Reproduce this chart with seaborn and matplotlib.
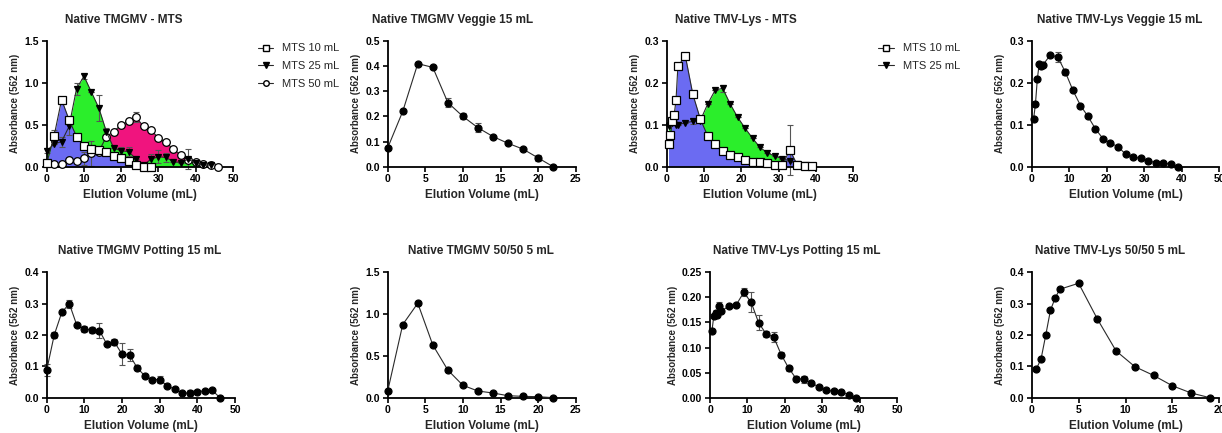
import seaborn as sns
import numpy as np
import matplotlib.pyplot as plt
from matplotlib.lines import Line2D

# DATA
# Native TMGMV - MTS
tmgmv_mts10_x = [0, 2, 4, 6, 8, 10, 12, 14, 16, 18, 20, 22, 24, 26, 28]
tmgmv_mts10_y = [0.04, 0.37, 0.80, 0.56, 0.36, 0.25, 0.21, 0.20, 0.17, 0.13, 0.10, 0.07, 0.02, 0.0, 0.0]
tmgmv_mts10_err = [0, 0.07, 0, 0, 0, 0, 0, 0, 0, 0, 0, 0, 0, 0, 0]

tmgmv_mts25_x = [0, 2, 4, 6, 8, 10, 12, 14, 16, 18, 20, 22, 24, 26, 28, 30, 32, 34, 36, 38, 40, 42, 44]
tmgmv_mts25_y = [0.19, 0.27, 0.30, 0.48, 0.93, 1.08, 0.89, 0.70, 0.42, 0.22, 0.19, 0.18, 0.09, 0.02,
                 0.09, 0.12, 0.11, 0.06, 0.05, 0.09, 0.04, 0.02, 0.02]
tmgmv_mts25_err = [0.03, 0, 0.06, 0.10, 0.07, 0.03, 0, 0.15, 0.04, 0, 0.04, 0.05, 0, 0,
                   0.06, 0.08, 0.05, 0, 0, 0.12, 0, 0, 0]

tmgmv_mts50_x = [0, 2, 4, 6, 8, 10, 12, 14, 16, 18, 20, 22, 24, 26, 28, 30, 32, 34, 36, 38, 40, 42, 44, 46]
tmgmv_mts50_y = [0.04, 0.03, 0.03, 0.08, 0.07, 0.10, 0.16, 0.18, 0.36, 0.42, 0.50, 0.54, 0.59, 0.48,
                 0.44, 0.34, 0.29, 0.21, 0.14, 0.08, 0.06, 0.03, 0.02, 0.0]
tmgmv_mts50_err = [0, 0, 0, 0, 0, 0.08, 0.15, 0, 0, 0, 0, 0, 0.06, 0, 0, 0, 0, 0, 0, 0, 0, 0, 0, 0]

# Native TMGMV Veggie 15 mL
tmgmv_veggie_x = [0, 2, 4, 6, 8, 10, 12, 14, 16, 18, 20, 22]
tmgmv_veggie_y = [0.075, 0.22, 0.41, 0.395, 0.255, 0.20, 0.155, 0.12, 0.093, 0.07, 0.035, 0.0]
tmgmv_veggie_err = [0, 0, 0, 0, 0.018, 0.012, 0.018, 0, 0, 0, 0.012, 0]

# Native TMV-Lys - MTS
lys_mts_x = [0.5, 1, 1.5, 2, 2.5, 3, 5, 7, 9, 11, 13, 15, 17, 19, 21, 23, 25, 27, 29, 31, 33, 35, 37, 39]
lys_mts10_y = [0.054, 0.075, 0.108, 0.123, 0.16, 0.24, 0.264, 0.173, 0.114, 0.073, 0.053, 0.038,
               0.029, 0.024, 0.017, 0.012, 0.011, 0.008, 0.005, 0.004, 0.04, 0.004, 0.002, 0.001]
lys_mts10_err = [0, 0, 0, 0, 0, 0, 0, 0, 0, 0, 0, 0, 0, 0, 0, 0, 0, 0, 0, 0, 0.06, 0, 0, 0]
lys_mts25_y = [0.097, 0.100, 0.105, 0.110, 0.100, 0.100, 0.105, 0.108, 0.110, 0.150, 0.183, 0.187,
               0.150, 0.118, 0.092, 0.068, 0.046, 0.033, 0.025, 0.019, 0.014, 0.006, 0.004, 0.002]
lys_mts25_err = [0, 0, 0, 0, 0, 0, 0, 0.006, 0, 0, 0, 0.008, 0, 0, 0, 0, 0, 0, 0, 0, 0, 0, 0, 0]

# Native TMV-Lys Veggie 15 mL
lys_veggie_x = [0.5, 1, 1.5, 2, 2.5, 3, 5, 7, 9, 11, 13, 15, 17, 19, 21, 23, 25, 27, 29, 31, 33, 35, 37, 39]
lys_veggie_y = [0.113, 0.150, 0.209, 0.246, 0.240, 0.243, 0.267, 0.261, 0.225, 0.182, 0.146, 0.120,
                0.090, 0.067, 0.056, 0.048, 0.030, 0.022, 0.021, 0.014, 0.010, 0.009, 0.006, 0.0]
lys_veggie_err = [0, 0, 0, 0.004, 0, 0, 0, 0.012, 0.007, 0, 0, 0, 0, 0, 0, 0, 0, 0, 0, 0, 0, 0, 0, 0]

# Native TMGMV Potting 15 mL
tmgmv_potting_x = [0, 2, 4, 6, 8, 10, 12, 14, 16, 18, 20, 22, 24, 26, 28, 30, 32, 34, 36, 38, 40, 42, 44, 46]
tmgmv_potting_y = [0.088, 0.200, 0.272, 0.300, 0.231, 0.218, 0.217, 0.214, 0.170, 0.177, 0.139, 0.136,
                   0.096, 0.070, 0.058, 0.058, 0.038, 0.027, 0.016, 0.014, 0.019, 0.022, 0.023, 0.0]
tmgmv_potting_err = [0.02, 0.01, 0, 0.013, 0, 0.01, 0.01, 0.023, 0, 0.01, 0.035, 0.02, 0.007, 0,
                     0, 0.012, 0, 0.004, 0, 0.01, 0, 0, 0, 0]

# Native TMGMV 50/50 5 mL
tmgmv_5050_x = [0, 2, 4, 6, 8, 10, 12, 14, 16, 18, 20, 22]
tmgmv_5050_y = [0.08, 0.875, 1.13, 0.63, 0.33, 0.148, 0.08, 0.056, 0.024, 0.016, 0.012, 0.0]
tmgmv_5050_err = [0, 0, 0, 0, 0, 0, 0, 0, 0, 0, 0, 0]

# Native TMV-Lys Potting 15 mL
lys_potting_x = [0.5, 1, 1.5, 2, 2.5, 3, 5, 7, 9, 11, 13, 15, 17, 19, 21, 23, 25, 27, 29, 31, 33, 35, 37, 39]
lys_potting_y = [0.132, 0.162, 0.169, 0.165, 0.182, 0.173, 0.182, 0.185, 0.210, 0.190, 0.149, 0.127,
                 0.121, 0.086, 0.059, 0.038, 0.037, 0.029, 0.022, 0.015, 0.013, 0.012, 0.006, 0.0]
lys_potting_err = [0, 0, 0.006, 0, 0.008, 0, 0, 0, 0.008, 0.02, 0.015, 0.005, 0.01, 0.005, 0.005,
                   0.005, 0.007, 0, 0, 0, 0, 0, 0, 0]

# Native TMV-Lys 50/50 5 mL
lys_5050_x = [0.5, 1, 1.5, 2, 2.5, 3, 5, 7, 9, 11, 13, 15, 17, 19]
lys_5050_y = [0.092, 0.124, 0.200, 0.279, 0.318, 0.346, 0.365, 0.251, 0.149, 0.099, 0.071, 0.038, 0.015, 0.0]
lys_5050_err = [0, 0, 0, 0, 0, 0.006, 0, 0, 0, 0, 0, 0, 0, 0]

titles = ["Native TMGMV - MTS", "Native TMGMV Veggie 15 mL", "Native TMV-Lys - MTS",
          "Native TMV-Lys Veggie 15 mL", "Native TMGMV Potting 15 mL", "Native TMGMV 50/50 5 mL",
          "Native TMV-Lys Potting 15 mL", "Native TMV-Lys 50/50 5 mL"]
legend_tmgmv = ["MTS 10 mL", "MTS 25 mL", "MTS 50 mL"]
legend_lys = ["MTS 10 mL", "MTS 25 mL"]

# STYLE
sns.set_style("ticks")
plt.rcParams['font.family'] = ['Liberation Sans', 'DejaVu Sans']
plt.rcParams['font.weight'] = 'bold'

W, H = 1222, 433
fig = plt.figure(figsize=(W / 100, H / 100), dpi=100)

BLUE = '#6B6BF2'
GREEN = '#2BEE2B'
PINK = '#F0147E'
LINE = '#2a2a2a'


def make_ax(left, right, y0, ytop):
    return fig.add_axes([left / W, (H - y0) / H, (right - left) / W, (y0 - ytop) / H])


def style(ax, xmax, xstep, ymax, ystep, yfmt, title, title_cx):
    ax.set_xlim(0, xmax)
    ax.set_ylim(0, ymax)
    ax.set_xticks(np.arange(0, xmax + 0.001, xstep))
    ax.set_yticks(np.arange(0, ymax + 0.0001, ystep))
    ax.set_yticklabels([yfmt.format(v) for v in np.arange(0, ymax + 0.0001, ystep)])
    sns.despine(ax=ax)
    for s in ['left', 'bottom']:
        ax.spines[s].set_linewidth(1.3)
        ax.spines[s].set_color('black')
    ax.tick_params(length=3.5, width=1.2, labelsize=7.5, pad=2, colors='black')
    for lab in ax.get_xticklabels() + ax.get_yticklabels():
        lab.set_fontweight('bold')
    ax.set_xlabel("Elution Volume (mL)", fontsize=8.5, fontweight='bold', labelpad=3)
    ax.set_ylabel("Absorbance (562 nm)", fontsize=7, fontweight='bold', labelpad=3)
    bb = ax.get_position()
    cx = (title_cx / W - bb.x0) / bb.width
    ax.set_title(title, fontsize=8.5, fontweight='bold', x=cx, pad=13)


def series(ax, x, y, err, marker, face, ms, label=None, fill=None):
    if fill is not None:
        ax.fill_between(x, y, 0, color=fill, linewidth=0, zorder=1)
    ax.errorbar(x, y, yerr=err, fmt='none', ecolor='#555555', elinewidth=0.8,
                capsize=2, capthick=0.8, zorder=2, clip_on=False)
    sns.lineplot(x=x, y=y, ax=ax, color=LINE, linewidth=0.8, marker=marker,
                 markersize=ms, markerfacecolor=face, markeredgecolor='black',
                 markeredgewidth=0.9, label=label, errorbar=None, clip_on=False, zorder=3)


# PANEL 1
ax1 = make_ax(46.7, 233, 166.7, 41)
series(ax1, tmgmv_mts50_x, tmgmv_mts50_y, tmgmv_mts50_err, 'o', 'white', 5.5, fill=PINK)
series(ax1, tmgmv_mts25_x, tmgmv_mts25_y, tmgmv_mts25_err, 'v', 'black', 5, fill=GREEN)
series(ax1, tmgmv_mts10_x, tmgmv_mts10_y, tmgmv_mts10_err, 's', 'white', 5.5, fill=BLUE)
style(ax1, 50, 10, 1.5, 0.5, "{:.1f}", titles[0], 124)
hand = [Line2D([], [], color=LINE, lw=0.8, marker=m, mfc=f, mec='black', ms=4)
        for m, f in [('s', 'white'), ('v', 'black'), ('o', 'white')]]
ax1.legend(hand, legend_tmgmv, loc='upper left', bbox_to_anchor=(1.08, 1.06), frameon=False,
           handlelength=1.4, labelspacing=0.7, prop={'weight': 'normal', 'size': 8})

# PANEL 2
ax2 = make_ax(387.7, 575.7, 166.7, 41)
series(ax2, tmgmv_veggie_x, tmgmv_veggie_y, tmgmv_veggie_err, 'o', 'black', 5)
style(ax2, 25, 5, 0.5, 0.1, "{:.1f}", titles[1], 453)

# PANEL 3
ax3 = make_ax(666.7, 853.3, 166.7, 41)
series(ax3, lys_mts_x, lys_mts25_y, lys_mts25_err, 'v', 'black', 5, fill=GREEN)
series(ax3, lys_mts_x, lys_mts10_y, lys_mts10_err, 's', 'white', 5.5, fill=BLUE)
style(ax3, 50, 10, 0.3, 0.1, "{:.1f}", titles[2], 736)
ax3.legend(hand[:2], legend_lys, loc='upper left', bbox_to_anchor=(1.08, 1.06), frameon=False,
           handlelength=1.4, labelspacing=0.7, prop={'weight': 'normal', 'size': 8})

# PANEL 4
ax4 = make_ax(1031.7, 1219.3, 166.7, 41)
series(ax4, lys_veggie_x, lys_veggie_y, lys_veggie_err, 'o', 'black', 5)
style(ax4, 50, 10, 0.3, 0.1, "{:.1f}", titles[3], 1120)

# PANEL 5
ax5 = make_ax(46.7, 235, 397.7, 272.3)
series(ax5, tmgmv_potting_x, tmgmv_potting_y, tmgmv_potting_err, 'o', 'black', 5)
style(ax5, 50, 10, 0.4, 0.1, "{:.1f}", titles[4], 140)

# PANEL 6
ax6 = make_ax(387.7, 575.7, 397.7, 272.3)
series(ax6, tmgmv_5050_x, tmgmv_5050_y, tmgmv_5050_err, 'o', 'black', 5)
style(ax6, 25, 5, 1.5, 0.5, "{:.1f}", titles[5], 481)

# PANEL 7
ax7 = make_ax(710, 897.3, 397.7, 272.3)
series(ax7, lys_potting_x, lys_potting_y, lys_potting_err, 'o', 'black', 5)
style(ax7, 50, 10, 0.25, 0.05, "{:.2f}", titles[6], 797)

# PANEL 8
ax8 = make_ax(1031.7, 1219.3, 397.7, 272.3)
series(ax8, lys_5050_x, lys_5050_y, lys_5050_err, 'o', 'black', 5)
style(ax8, 20, 5, 0.4, 0.1, "{:.1f}", titles[7], 1110)

fig.savefig("out.png", dpi=100, facecolor='white')
